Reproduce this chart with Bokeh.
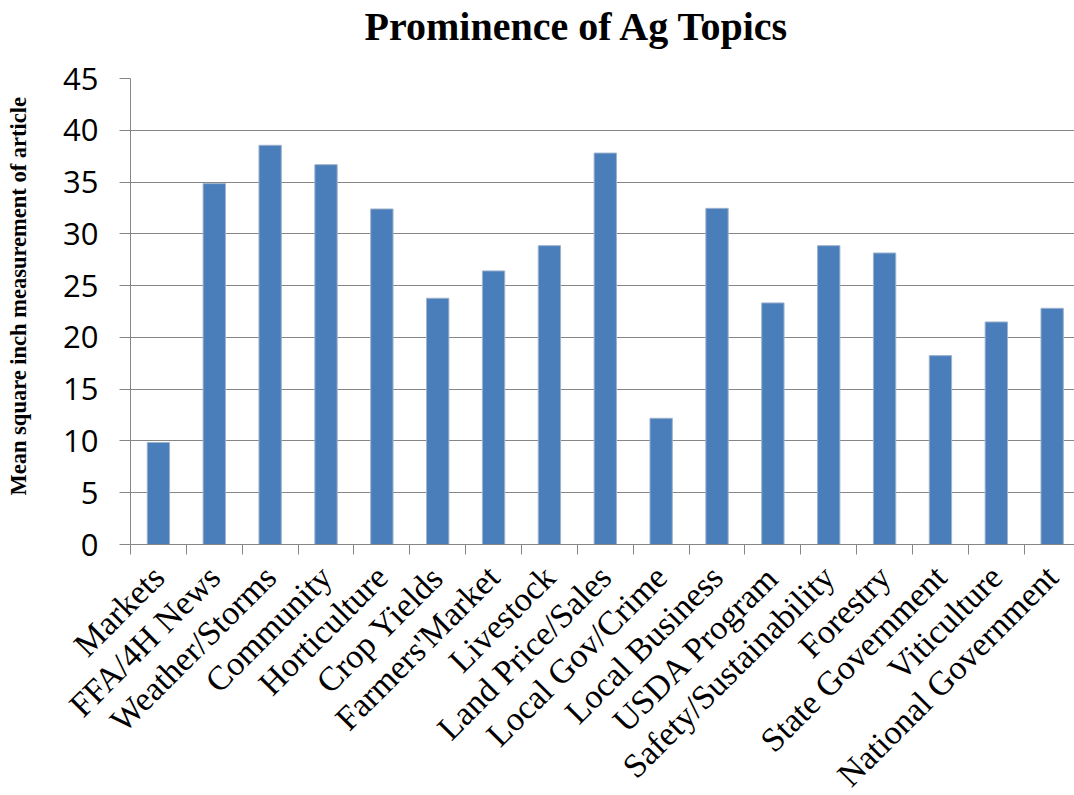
from math import pi
from bokeh.plotting import figure
from bokeh.models import ColumnDataSource, Range1d, FixedTicker, Title
from bokeh.embed import file_html
from bokeh.resources import INLINE

categories = ["Markets", "FFA/4H News", "Weather/Storms", "Community", "Horticulture",
              "Crop Yields", "Farmers'Market", "Livestock", "Land Price/Sales",
              "Local Gov/Crime", "Local Business", "USDA Program",
              "Safety/Sustainability", "Forestry", "State Government",
              "Viticulture", "National Government"]
values = [9.85, 34.85, 38.55, 36.68, 32.4, 23.78, 26.42, 28.86, 37.8,
          12.19, 32.46, 23.33, 28.86, 28.15, 18.24, 21.49, 22.81]
y_ticks = [0, 5, 10, 15, 20, 25, 30, 35, 40, 45]
title_text = "Prominence of Ag Topics"
y_label = "Mean square inch measurement of article"

centers = [i + 0.5 for i in range(len(categories))]
bounds = [i for i in range(len(categories) + 1)]

BLUE = "#4A7EBB"
GRID = "#868686"

p = figure(frame_width=944, frame_height=466, output_backend="svg",
           toolbar_location=None,
           x_range=Range1d(0, 16.9), y_range=Range1d(0, 45),
           min_border_left=130, min_border_right=0, min_border_top=78,
           min_border_bottom=0)
p.outline_line_color = None
p.background_fill_color = "white"

p.title.text = title_text
p.title.align = "left"
p.title.offset = 234
p.title.text_font = "Liberation Serif"
p.title.text_font_style = "bold"
p.title.text_font_size = "40px"
p.title.text_color = "black"
p.title.standoff = 0

# spacer between frame and title
p.add_layout(Title(text=" ", text_font_size="10px", standoff=17), "above")

src = ColumnDataSource(dict(x=centers, top=values))
p.vbar(x="x", top="top", bottom=0, width=0.4, source=src,
       fill_color=BLUE, line_color="#9fb3cc", line_width=1)

xa = p.xaxis[0]
xa.ticker = FixedTicker(ticks=centers, minor_ticks=bounds)
xa.major_label_overrides = {c: n for c, n in zip(centers, categories)}
xa.major_label_orientation = pi / 4
xa.major_label_text_font = "Liberation Serif"
xa.major_label_text_font_size = "34px"
xa.major_label_text_color = "black"
xa.major_tick_line_color = None
xa.major_tick_out = 0
xa.major_tick_in = 0
xa.minor_tick_out = 10
xa.minor_tick_in = 0
xa.minor_tick_line_color = GRID
xa.axis_line_color = GRID
xa.major_label_standoff = 17

ya = p.yaxis[0]
ya.ticker = FixedTicker(ticks=y_ticks)
ya.major_label_text_font = "Open Sans"
ya.major_label_text_font_size = "31px"
ya.major_label_text_color = "black"
ya.major_tick_out = 11
ya.major_tick_in = 0
ya.major_tick_line_color = GRID
ya.minor_tick_line_color = None
ya.axis_line_color = GRID
ya.major_label_standoff = 21

# y-axis title as a left-side title, with a spacer next to the axis
p.add_layout(Title(text=" ", text_font_size="10px", standoff=17), "left")
p.add_layout(Title(text=y_label, align="left", offset=49,
                   text_font="Liberation Serif", text_font_style="bold",
                   text_font_size="22.5px", text_color="black", standoff=0),
             "left")

p.xgrid.grid_line_color = None
p.ygrid.ticker = FixedTicker(ticks=y_ticks)
p.ygrid.grid_line_color = GRID
p.ygrid.grid_line_width = 1

open("out.html", "w").write(file_html(p, INLINE))
